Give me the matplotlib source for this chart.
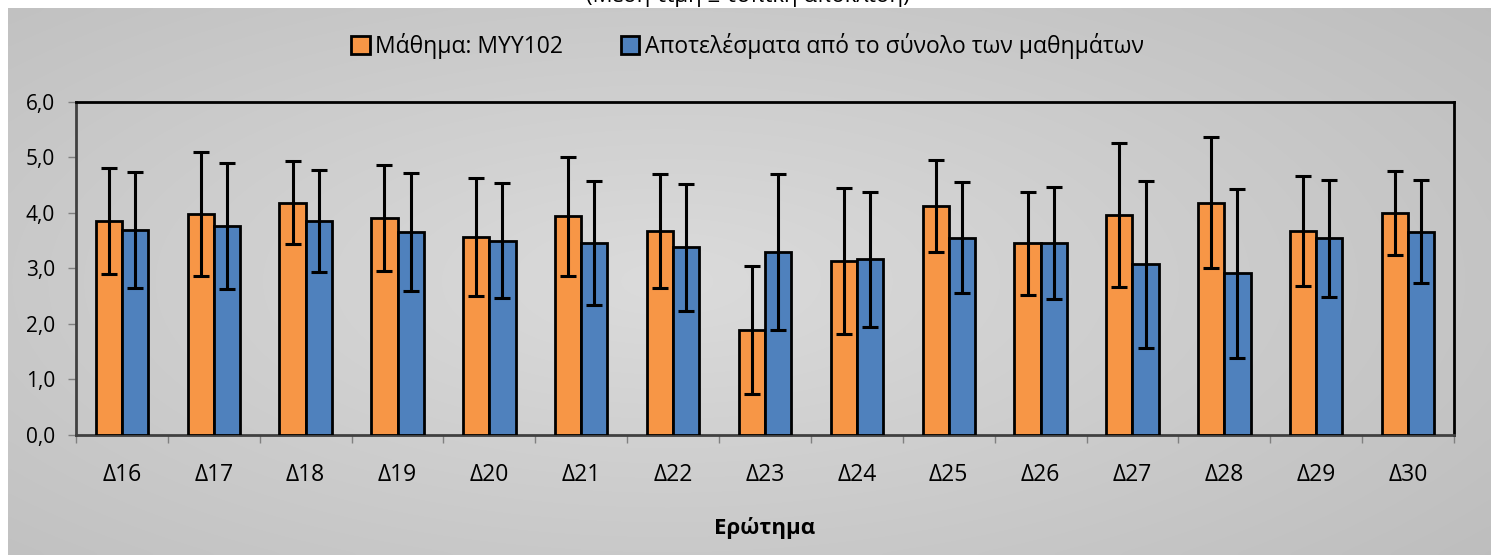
import matplotlib
matplotlib.use("Agg")
import matplotlib.pyplot as plt
import numpy as np

plt.rcParams["font.family"] = ["Open Sans", "DejaVu Sans"]

# data
categories = ["Δ16", "Δ17", "Δ18", "Δ19", "Δ20", "Δ21", "Δ22", "Δ23",
              "Δ24", "Δ25", "Δ26", "Δ27", "Δ28", "Δ29", "Δ30"]
course_mean = [3.85, 3.98, 4.18, 3.91, 3.57, 3.94, 3.67, 1.89,
               3.13, 4.12, 3.45, 3.96, 4.18, 3.67, 4.00]
course_sd = [0.95, 1.12, 0.75, 0.95, 1.06, 1.07, 1.02, 1.16,
             1.31, 0.83, 0.93, 1.30, 1.18, 0.99, 0.76]
all_mean = [3.69, 3.76, 3.85, 3.65, 3.50, 3.46, 3.38, 3.29,
            3.16, 3.55, 3.46, 3.07, 2.91, 3.54, 3.66]
all_sd = [1.04, 1.13, 0.92, 1.06, 1.03, 1.12, 1.14, 1.40,
          1.22, 1.00, 1.01, 1.50, 1.52, 1.05, 0.93]
series_names = ["Μάθημα: ΜΥΥ102", "Αποτελέσματα από το σύνολο των μαθημάτων"]
y_ticks = [0, 1, 2, 3, 4, 5, 6]

W, H = 1495, 558
fig = plt.figure(figsize=(W / 100, H / 100), dpi=100)
fig.patch.set_facecolor("white")

# gray chart area with a soft radial gradient
bg = fig.add_axes([8 / W, 3 / H, 1483 / W, 547 / H], zorder=-2)
gx, gy = np.meshgrid(np.linspace(-1, 1, 300), np.linspace(-1, 1, 120))
r = np.sqrt((gx * 0.9 + 0.1) ** 2 + (gy * 0.8) ** 2)
g = np.clip(0.86 - 0.09 * r, 0.74, 0.86)
bg.imshow(np.dstack([g, g, g]), aspect="auto", extent=[0, 1, 0, 1], interpolation="bicubic")
bg.set_axis_off()

ax = fig.add_axes([76 / W, (H - 435) / H, (1454 - 76) / W, (435 - 101.7) / H])
ax.patch.set_alpha(0)

x = np.arange(len(categories))
bw = 0.285
err_kw = dict(ecolor="black", elinewidth=2.2, capsize=5.5, capthick=2.2)
ax.bar(x - bw / 2, course_mean, bw, yerr=course_sd, color="#f79646",
       edgecolor="black", linewidth=2, label=series_names[0], error_kw=err_kw, zorder=3)
ax.bar(x + bw / 2, all_mean, bw, yerr=all_sd, color="#4f81bd",
       edgecolor="black", linewidth=2, label=series_names[1], error_kw=err_kw, zorder=3)

ax.set_xlim(-0.5, len(categories) - 0.5)
ax.set_ylim(0, 6)
ax.set_yticks(y_ticks)
ax.set_yticklabels([f"{v:.1f}".replace(".", ",") for v in y_ticks], fontsize=15)
ax.set_xticks(x)
ax.set_xticklabels(categories, fontsize=16.5)
ax.set_xticks(np.arange(len(categories) + 1) - 0.5, minor=True)
ax.tick_params(axis="x", which="major", length=0, pad=20)
ax.tick_params(axis="x", which="minor", length=6, color="#808080", width=1)
ax.tick_params(axis="y", length=6, color="#808080", width=1, pad=9)

for side in ["top", "right"]:
    ax.spines[side].set_color("black")
    ax.spines[side].set_linewidth(2)
for side in ["left", "bottom"]:
    ax.spines[side].set_color("#404040")
    ax.spines[side].set_linewidth(2)

ax.set_xlabel("Ερώτημα", fontsize=16, fontweight="bold", labelpad=22)

leg = fig.legend(loc="center", bbox_to_anchor=(0.5, 1 - 46 / H), ncol=2,
                 frameon=False, fontsize=16.5, handlelength=0.8, handleheight=0.8,
                 handletextpad=0.25, columnspacing=2.5)

fig.text(0.5, 1 - 7 / H, "(Μέση τιμή ± τυπική απόκλιση)", ha="center",
         va="bottom", fontsize=16)

fig.savefig("out.png", dpi=100)
